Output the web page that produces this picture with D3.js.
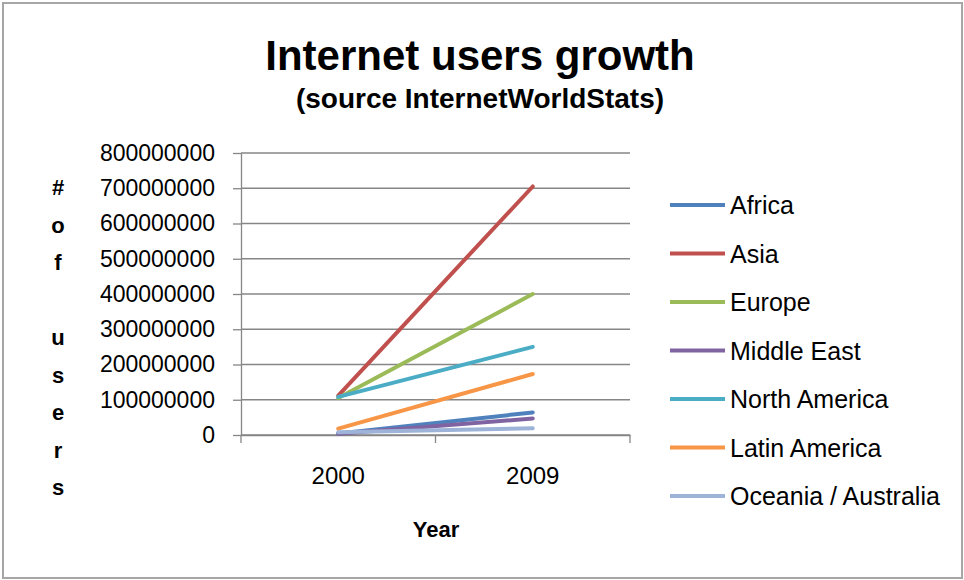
<!DOCTYPE html>
<html>
<head>
<meta charset="utf-8">
<script src="https://cdn.jsdelivr.net/npm/d3@7"></script>
<style>
  body { margin: 0; background: #fff; }
  text { font-family: "Liberation Sans", Arial, sans-serif; fill: #000; }
</style>
</head>
<body>
<div id="chart"></div>
<script>
// data
const years = ["2000", "2009"];
const regions = ["Africa", "Asia", "Europe", "Middle East", "North America", "Latin America", "Oceania / Australia"];
const users2000 = [4500000, 112000000, 105000000, 3300000, 108000000, 18000000, 7600000];
const users2009 = [64000000, 705000000, 400000000, 47000000, 250000000, 173000000, 19000000];
const colors = ["#4F81BD", "#C0504D", "#9BBB59", "#8064A2", "#4BACC6", "#F79646", "#9DB4D8"];
const yTicks = [0, 100000000, 200000000, 300000000, 400000000, 500000000, 600000000, 700000000, 800000000];
const yLabel = ["#", "o", "f", "", "u", "s", "e", "r", "s"];

const width = 964, height = 580;
const margin = {top: 153, right: 334, bottom: 145, left: 241};

const svg = d3.select("#chart").append("svg")
    .attr("width", width)
    .attr("height", height);

// outer border
svg.append("rect")
    .attr("x", 3).attr("y", 3)
    .attr("width", 959).attr("height", 575)
    .attr("fill", "none")
    .attr("stroke", "#a6a6a6")
    .attr("stroke-width", 2);

const plotW = width - margin.left - margin.right;
const plotH = height - margin.top - margin.bottom;

const g = svg.append("g")
    .attr("transform", "translate(" + margin.left + "," + margin.top + ")");

const x = d3.scaleBand().domain(years).range([0, plotW]);
const y = d3.scaleLinear().domain([0, 800000000]).range([plotH, 0]);

// gridlines
g.selectAll(".grid")
    .data(yTicks)
    .enter().append("line")
    .attr("class", "grid")
    .attr("x1", 0).attr("x2", plotW)
    .attr("y1", d => y(d)).attr("y2", d => y(d))
    .attr("stroke", "#868686")
    .attr("stroke-width", 1.3);

// y axis
const yAxis = d3.axisLeft(y).tickValues(yTicks).tickFormat(d3.format("d")).tickSizeInner(8).tickSizeOuter(0).tickPadding(18);
g.append("g").attr("class", "y-axis").call(yAxis);

// x axis, ticks on band boundaries
const xAxis = d3.axisBottom(x).tickSize(0).tickPadding(32);
const xg = g.append("g").attr("class", "x-axis")
    .attr("transform", "translate(0," + plotH + ")")
    .call(xAxis);
const bounds = [0, plotW / 2, plotW];
xg.selectAll(".bound")
    .data(bounds)
    .enter().append("line")
    .attr("class", "bound")
    .attr("x1", d => d).attr("x2", d => d)
    .attr("y1", 0).attr("y2", 8)
    .attr("stroke", "#868686")
    .attr("stroke-width", 1.3);

svg.selectAll(".domain").attr("stroke", "#868686").attr("stroke-width", 1.3);
svg.selectAll(".y-axis .tick line").attr("stroke", "#868686").attr("stroke-width", 1.3);
svg.selectAll(".y-axis text").style("font-size", "23px");
svg.selectAll(".x-axis text").style("font-size", "24px");

// series lines
const line = d3.line()
    .x(d => x(d.year) + x.bandwidth() / 2)
    .y(d => y(d.value));

const series = regions.map((r, i) => ({
    name: r,
    color: colors[i],
    values: [{year: years[0], value: users2000[i]}, {year: years[1], value: users2009[i]}]
}));

g.selectAll(".series")
    .data(series)
    .enter().append("path")
    .attr("class", "series")
    .attr("d", d => line(d.values))
    .attr("fill", "none")
    .attr("stroke", d => d.color)
    .attr("stroke-width", 4)
    .attr("stroke-linecap", "round");

// titles
svg.append("text")
    .attr("x", 480).attr("y", 70)
    .attr("text-anchor", "middle")
    .style("font-size", "42px")
    .style("font-weight", "bold")
    .text("Internet users growth");

svg.append("text")
    .attr("x", 480).attr("y", 108)
    .attr("text-anchor", "middle")
    .style("font-size", "28px")
    .style("font-weight", "bold")
    .text("(source InternetWorldStats)");

svg.append("text")
    .attr("x", 436).attr("y", 537)
    .attr("text-anchor", "middle")
    .style("font-size", "22px")
    .style("font-weight", "bold")
    .text("Year");

// stacked y axis title
svg.append("g").selectAll("text")
    .data(yLabel)
    .enter().append("text")
    .attr("x", 58)
    .attr("y", (d, i) => 195 + i * 37.5)
    .attr("text-anchor", "middle")
    .style("font-size", "22px")
    .style("font-weight", "bold")
    .text(d => d);

// legend
const legend = svg.append("g").attr("transform", "translate(670,205)");
const items = legend.selectAll(".item")
    .data(series)
    .enter().append("g")
    .attr("class", "item")
    .attr("transform", (d, i) => "translate(0," + i * 48.5 + ")");
items.append("line")
    .attr("x1", 0).attr("x2", 55)
    .attr("y1", 0).attr("y2", 0)
    .attr("stroke", d => d.color)
    .attr("stroke-width", 4);
items.append("text")
    .attr("x", 60).attr("y", 9)
    .style("font-size", "25px")
    .text(d => d.name);
</script>
</body>
</html>
